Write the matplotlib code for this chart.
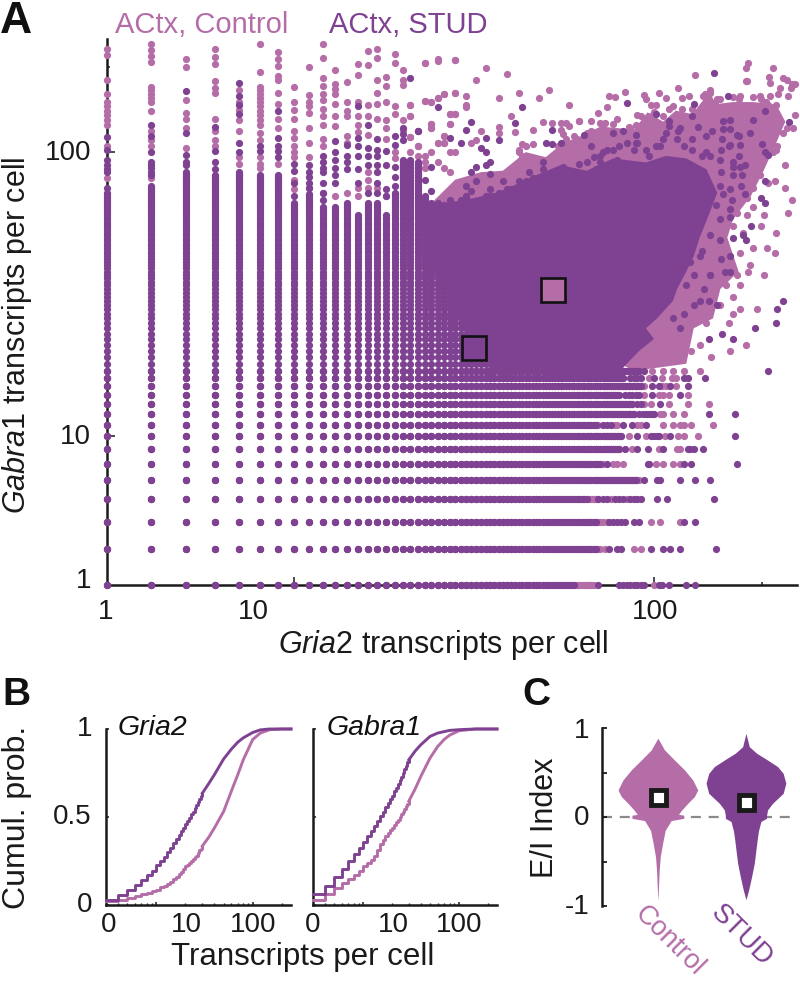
import matplotlib
matplotlib.use("Agg")
import matplotlib.pyplot as plt
from matplotlib.ticker import NullFormatter, FixedLocator

plt.rcParams['font.family'] = ['Liberation Sans', 'DejaVu Sans']
plt.rcParams['mathtext.fontset'] = 'custom'
plt.rcParams['mathtext.it'] = 'Liberation Sans:italic'
plt.rcParams['mathtext.rm'] = 'Liberation Sans'
W, H = 800, 981
PINK = '#B56DA8'
PURP = '#7F4191'
INK = '#1a1a1a'

# ---------- Panel A data (transcript counts sit on an integer lattice) ----------
col_x = list(range(3, 41))
col_top = [72, 75, 85, 83, 85, 83, 83, 66, 71, 64, 64, 66, 60, 66, 66, 60, 72, 94, 94, 92, 70, 66, 65, 65, 68, 65, 65, 70,
           66, 66, 68, 68, 70, 70, 72, 72, 74, 74]
row_y = list(range(3, 18))
stud_row_end = [60, 69, 69, 65, 89, 71, 80, 81, 69, 88, 87, 80, 92, 82, 91]
ctrl_row_end = [68, 71, 72, 70, 91, 72, 80, 81, 70, 88, 87, 80, 92, 82, 91]

stud_row_extra = {
    3: [70, 80, 82, 84, 86, 88, 90, 92, 94, 103, 105, 110, 123, 130],
    4: [75, 79, 81, 98, 106, 111, 118, 149],
    5: [75, 77, 79, 81, 83, 88, 91, 121, 130],
    6: [70, 72, 74, 78, 80, 82, 86, 88, 90, 92, 102, 109, 147],
    7: [94, 102, 104, 118, 130, 143],
    8: [74, 96, 97, 121, 127, 170],
    9: [83, 90, 96, 106, 124, 126, 129, 137],
    10: [90, 98, 100, 102, 103, 111, 168],
    11: [72, 74, 76, 82, 87, 95],
    12: [91, 93, 95, 97, 99, 100, 142, 168],
    13: [90, 92, 104],
    14: [83, 85, 87, 89, 91, 99, 118],
    15: [99, 103, 111, 124],
    16: [86, 88, 90, 92, 100, 121, 124, 139],
    17: [94, 207],
}
ctrl_row_extra = {
    3: [62, 65, 67, 100],
    4: [73, 88, 92],
    5: [74, 98, 104, 118],
    6: [68, 76, 84],
    8: [77, 79, 82, 101, 106, 113, 118],
    9: [87, 103, 116, 118],
    10: [85, 95, 107, 117, 121, 133],
    11: [78, 79, 90, 92, 106, 113, 118, 121, 127, 146],
    12: [104, 106, 113, 121],
    13: [94, 98, 110, 124, 142],
    14: [94, 103, 106, 110, 124],
    15: [94, 105, 108, 115],
    16: [97, 105, 112, 115],
    17: [99, 106, 113, 121, 134],
}
ctrl_col_extra = {
    3: [230, 220, 180, 160, 150, 145, 140, 135, 130, 125, 105, 81],
    4: [240, 228, 218, 208, 170, 165, 160, 155, 150, 139, 119, 110, 105, 81],
    5: [212, 200, 152, 137, 131, 122, 103],
    6: [230, 216, 204, 178, 168, 161, 131, 119, 110, 105],
    7: [165, 150, 141, 130, 119, 96, 91],
    8: [240, 192, 170, 165, 160, 155, 150, 145, 140, 135, 130, 125, 117, 110, 96, 91, 88],
    9: [225, 212, 201, 185, 180, 162, 148, 131, 122, 91],
    10: [170, 150, 141, 131, 119, 112, 105, 100, 96, 80, 74],
    11: [200, 159, 150, 145, 137, 122, 108, 96, 75],
    12: [240, 215, 182, 171, 160, 153, 142, 134, 125, 111, 105, 72],
    13: [194, 173, 167, 160, 148, 134, 124, 70],
    14: [177, 150, 140, 134, 114, 108, 72],
    15: [204, 187, 150, 134, 125, 118, 75, 70],
    16: [227, 202, 147, 134, 115, 85, 80, 75],
    17: [230, 215, 180, 162, 148, 131, 75],
    18: [184, 171, 150, 130, 122, 111, 70],
    19: [222, 205, 145, 136, 100, 95],
    20: [194, 180, 172, 130, 120],
    21: [147, 134, 113, 100],
    22: [119, 105, 97],
    23: [205, 151, 97, 92, 88],
    24: [150, 126, 122, 100],
    25: [212, 155, 108, 92],
    26: [160, 114, 108, 88],
    27: [136, 126, 100, 85],
    28: [211, 161, 136, 100],
}
stud_col_extra = {
    3: [113, 102, 94, 90, 87, 85, 75],
    4: [125, 114, 100, 92, 90, 88, 85, 83, 76],
    5: [164, 117, 98, 92, 90],
    6: [123, 101, 92, 87],
    7: [175, 157, 146, 136, 108, 100],
    8: [105, 101],
    9: [139, 112, 105, 101, 96],
    10: [91, 86, 78, 70],
    11: [90, 85, 82, 78, 75],
    12: [97, 92, 88, 85, 78, 72, 68],
    13: [109, 100, 94, 88, 83, 78],
    14: [106, 97, 92, 87],
    15: [145, 112, 105, 97, 87, 78],
    16: [125, 103, 97, 90, 72],
    17: [111, 102, 97, 90, 85, 78, 72],
    18: [101, 90, 74, 70],
    19: [114, 106, 89, 82, 76],
    20: [122, 116, 110],
    21: [182],
    22: [119],
    23: [80],
    24: [89, 73],
}

stud_pts_x = [25, 43, 84, 129, 161, 204, 238, 31, 41, 52, 22, 30, 27, 34, 29, 64, 37, 50, 52, 55, 33, 34, 101, 110, 128, 133, 145,
              118, 82, 77, 67, 156, 163, 156, 163, 188, 140, 185, 170, 155, 163, 174, 200, 204, 208, 204, 199, 204, 179, 175, 165, 156,
              163, 163, 186, 177, 180, 163, 154, 158, 163, 143, 138, 142, 150, 229, 220, 219, 191, 166, 155, 142, 147,
              31, 32, 34, 35, 35, 32, 30, 31, 35, 34, 38, 42, 45, 49, 49, 56, 60, 62, 65, 69, 71, 80, 86, 88, 90, 77, 79, 72, 68,
              97, 101, 108, 110, 117, 128, 140, 154, 162, 172, 172, 166, 179, 176, 154, 166,
              71, 74, 80, 84, 89, 89, 95, 104, 106, 116, 121, 128, 136, 143, 153, 166, 173, 153, 163, 149, 153, 143, 153, 166,
              136, 134, 126, 129, 143, 123, 134, 121, 129, 113, 118, 25, 27, 29, 30, 33, 36, 38, 41, 44, 46, 51]
stud_pts_y = [144, 144, 149, 148, 158, 139, 128, 128, 127, 120, 119, 120, 112, 112, 108, 115, 110, 108, 107, 108, 103, 100, 136, 129, 134, 123, 119,
              122, 119, 117, 105, 129, 130, 121, 121, 130, 114, 117, 115, 111, 106, 106, 107, 100, 98, 79, 69, 66, 71, 76, 68, 71,
              63, 59, 55, 51, 49, 43, 42, 38, 38, 37, 33, 30, 29, 30, 28, 25, 24, 22, 23, 22, 190,
              85, 89, 90, 92, 84, 79, 76, 73, 74, 70, 79, 79, 85, 92, 87, 89, 85, 91, 92, 87, 92, 89, 89, 102, 108, 102, 94, 100, 96,
              97, 105, 117, 124, 119, 111, 100, 102, 105, 114, 97, 92, 90, 83, 85, 83,
              97, 102, 105, 108, 115, 108, 102, 105, 111, 111, 105, 102, 97, 97, 94, 89, 89, 76, 74, 65, 58, 51, 49, 50,
              45, 43, 41, 37, 37, 34, 30, 27, 29, 26, 24, 66, 66, 68, 65, 68, 68, 69, 73, 79, 81, 83]
ctrl_pts_x = [23, 25, 28, 34, 32, 39, 130, 183, 180, 214, 209, 210, 180, 182, 229, 234, 242, 224, 240, 247, 117, 103, 83, 94, 95, 75, 78,
              108, 120, 125, 51, 48, 42, 37, 30, 30, 30, 28, 26, 25, 24, 23, 58, 74, 70, 79, 67, 62, 90, 92, 40, 27, 28, 21, 21,
              46, 49, 52, 55, 57, 62, 55, 41, 37, 37, 33, 27, 24, 24, 32, 31, 26, 25, 26, 21, 22,
              247, 234, 244, 220, 215, 232, 217, 208, 242, 232, 236, 218, 203, 199, 206, 217, 203, 183, 174, 193, 166, 173, 162,
              180, 163, 144, 134, 127, 44, 42, 58, 73, 85, 76, 100, 110, 98, 128, 137, 143, 150, 173, 198, 205,
              143, 139, 142, 148, 153, 166, 172, 189, 197, 210, 222, 236, 208, 219, 43, 46, 42, 43, 45, 49, 54, 57, 56, 60, 61,
              65, 67, 71, 72, 77, 86, 89, 94, 98, 101, 106, 113, 120, 229, 214, 219, 201, 197, 189, 181, 189, 170, 181, 166, 177,
              189, 173, 185, 170, 159, 166, 153, 140]
ctrl_pts_y = [205, 210, 211, 197, 179, 188, 187, 206, 198, 197, 184, 175, 178, 178, 182, 179, 174, 168, 168, 174, 168, 162, 163, 159, 154, 158, 156,
              155, 155, 158, 165, 155, 161, 155, 158, 146, 144, 161, 160, 155, 150, 151, 147, 144, 137, 131, 129, 129, 135, 134, 134, 136, 136, 147, 134,
              120, 128, 127, 127, 127, 129, 120, 118, 123, 117, 119, 126, 126, 122, 110, 108, 108, 108, 114, 113, 105,
              135, 122, 122, 105, 100, 90, 79, 78, 68, 75, 61, 52, 60, 55, 46, 44, 37, 38, 34, 28, 27, 28, 25,
              21, 20, 19, 21, 20, 105, 100, 124, 127, 123, 117, 138, 142, 146, 142, 158, 162, 154, 157, 154, 150,
              165, 160, 154, 150, 154, 156, 154, 156, 158, 158, 160, 158, 146, 146, 107, 107, 102, 97, 94, 94, 105, 111, 116, 114, 111,
              117, 119, 127, 126, 126, 122, 125, 127, 134, 146, 134, 145, 142, 117, 117, 102, 97, 83, 75, 69, 64, 61, 60, 55, 52,
              46, 44, 40, 37, 34, 31, 29, 25]

ctrl_mass_x = [24, 28, 33, 38, 44, 50, 56, 62, 71, 88, 96, 106, 115, 128, 140, 152, 166, 189, 219, 232, 219, 201, 186, 166, 160, 172, 153, 146, 129, 123, 88, 24]
ctrl_mass_y = [66, 80, 85, 86, 100, 96, 108, 113, 123, 120, 138, 128, 140, 136, 158, 148, 150, 150, 147, 128, 108, 85, 70, 58, 50, 38, 33, 26, 24, 18, 17, 40]
stud_mass_x = [24, 30, 37, 46, 55, 65, 77, 95, 108, 123, 140, 150, 142, 134, 129, 123, 116, 113, 102, 95, 100, 91, 84, 80, 36, 30, 24]
stud_mass_y = [65, 68, 72, 82, 90, 86, 95, 92, 97, 95, 87, 72, 60, 50, 43, 38, 33, 30, 26, 24, 22, 20, 18, 16.8, 16.8, 24, 40]

ctrl_mean = (52.3, 32.6)
stud_mean = (31.6, 20.5)

# ---------- Panel B data ----------
cdf_int = list(range(3, 31))
cdf_tail = [35, 40, 50, 60, 70, 80, 100, 120, 150, 200, 250]
gria2_stud_int = [.03, .055, .085, .115, .14, .17, .195, .225, .25, .275, .30, .325, .35, .375, .40, .42, .44, .46,
                  .475, .495, .515, .53, .55, .57, .585, .60, .62, .635]
gria2_stud_tail = [.69, .74, .83, .885, .925, .95, .98, .995, 1, 1, 1]
gria2_ctrl_int = [.02, .03, .04, .05, .06, .07, .08, .087, .10, .11, .12, .13, .145, .16, .175, .19, .205, .22,
                  .23, .24, .25, .26, .27, .28, .295, .31, .32, .335]
gria2_ctrl_tail = [.385, .437, .532, .646, .74, .826, .94, .977, .996, 1, 1]
gabra1_stud_int = [.06, .11, .16, .205, .25, .29, .325, .36, .39, .42, .45, .48, .505, .53, .555, .58, .60, .62,
                   .645, .665, .69, .71, .73, .75, .77, .79, .81, .825]
gabra1_stud_tail = [.875, .91, .958, .977, .985, .992, .996, .998, 1, 1, 1]
gabra1_ctrl_int = [.03, .06, .095, .125, .145, .17, .195, .22, .24, .255, .28, .31, .345, .37, .39, .41, .425, .44,
                   .455, .47, .485, .50, .515, .53, .545, .56, .575, .59]
gabra1_ctrl_tail = [.66, .73, .835, .90, .94, .965, .99, .995, 1, 1, 1]

# ---------- Panel C data ----------
ei_ctrl = [.885, .754, .64, .53, .416, .304, .23, .154, .08, .03, .02, -.015, -.04, -.15, -.30, -.45, -.60, -.78, -.94]
ctrl_width = [0, 20, 50, 80, 105, 120, 110, 90, 72, 62, 78, 78, 40, 22, 14, 7, 4, 2, 0]
ei_stud = [.94, .79, .717, .64, .567, .49, .38, .266, .154, .08, .02, -.015, -.05, -.15, -.22, -.37, -.52, -.67, -.82, -.93]
stud_width = [0, 10, 32, 65, 95, 112, 120, 112, 80, 65, 62, 62, 45, 38, 35, 30, 25, 17, 8, 0]
ei_means = [.23, .173]
groups = ['Control', 'STUD']


def axpx(l, t, r, b):
    return fig.add_axes([l / W, 1 - b / H, (r - l) / W, (b - t) / H])


def txt(x, y, s, **k):
    k.setdefault('ha', 'center')
    k.setdefault('va', 'center')
    k.setdefault('color', INK)
    fig.text(x / W, 1 - y / H, s, **k)


def style(ax, lw=1.8):
    for s in ('top', 'right'):
        ax.spines[s].set_visible(False)
    for s in ('left', 'bottom'):
        ax.spines[s].set_linewidth(lw)
        ax.spines[s].set_color(INK)
    ax.patch.set_alpha(0)


minor_t = [4, 5, 6, 7, 8, 9, 20, 30, 40, 50, 60, 70, 80, 90, 200]

fig = plt.figure(figsize=(W / 100, H / 100), dpi=100)

# ---------- A ----------
ax = axpx(106.5, 39, 797, 585)
style(ax)
ax.set_xscale('log')
ax.set_yscale('log')
ax.set_xlim(3, 250)
ax.set_ylim(3, 250)
for a in (ax.xaxis, ax.yaxis):
    a.set_major_locator(FixedLocator([10, 100]))
    a.set_minor_locator(FixedLocator(minor_t))
    a.set_major_formatter(NullFormatter())
    a.set_minor_formatter(NullFormatter())
ax.tick_params(which='major', direction='in', length=5.5, width=1.1, color=INK)
ax.tick_params(which='minor', direction='in', length=2.5, width=1.1, color=INK)

sx, sy, cx, cy = [], [], [], []
for x, t in zip(col_x, col_top):
    for y in range(3, t + 1):
        sx.append(x); sy.append(y)
for y, e, e2 in zip(row_y, stud_row_end, ctrl_row_end):
    for x in range(3, e + 1):
        sx.append(x); sy.append(y)
    for x in range(3, e2 + 1):
        cx.append(x); cy.append(y)
for y, xs in stud_row_extra.items():
    sx += xs; sy += [y] * len(xs)
for y, xs in ctrl_row_extra.items():
    cx += xs; cy += [y] * len(xs)
for x, ys in stud_col_extra.items():
    sx += [x] * len(ys); sy += ys
for x, ys in ctrl_col_extra.items():
    cx += [x] * len(ys); cy += ys
sx += stud_pts_x; sy += stud_pts_y
cx += ctrl_pts_x; cy += ctrl_pts_y

S = 27
ax.fill(ctrl_mass_x, ctrl_mass_y, color=PINK, lw=0, zorder=3)
ax.scatter(cx, cy, s=S, color=PINK, lw=0, zorder=3, clip_on=False)
ax.fill(stud_mass_x, stud_mass_y, color=PURP, lw=0, zorder=4)
ax.scatter(sx, sy, s=S, color=PURP, lw=0, zorder=4, clip_on=False)
ax.plot(*ctrl_mean, 's', ms=17.5, mfc=PINK, mec='#111111', mew=1.9, zorder=5)
ax.plot(*stud_mean, 's', ms=17.5, mfc=PURP, mec='#111111', mew=1.9, zorder=5)

FS = 20
LS = 22
txt(0, 33, 'A', fontsize=32, fontweight='bold', ha='left', va='baseline', color='#111111')
txt(115, 25, 'ACtx, Control', fontsize=21, color=PINK, ha='left')
txt(329, 25, 'ACtx, STUD', fontsize=21, color=PURP, ha='left')
for lab, y in zip(['100', '10', '1'], [153, 437, 581]):
    txt(91, y, lab, fontsize=FS, ha='right')
for lab, x in zip(['1', '10', '100'], [106, 253, 655]):
    txt(x, 612, lab, fontsize=FS)
txt(443, 645, r'$\mathit{Gria}$2 transcripts per cell', fontsize=LS)
txt(17, 335, r'$\mathit{Gabra1}$ transcripts per cell', fontsize=LS, rotation=90)

# ---------- B ----------
for (l, r, name, name_x, si, st, ci, ct) in [
    (106, 291, 'Gria2', 152, gria2_stud_int, gria2_stud_tail, gria2_ctrl_int, gria2_ctrl_tail),
    (313, 497, 'Gabra1', 374, gabra1_stud_int, gabra1_stud_tail, gabra1_ctrl_int, gabra1_ctrl_tail),
]:
    b = axpx(l, 729, r, 905)
    style(b)
    b.set_xscale('log')
    b.set_xlim(3, 250)
    b.set_ylim(0, 1)
    b.xaxis.set_major_locator(FixedLocator([10, 100]))
    b.xaxis.set_minor_locator(FixedLocator(minor_t))
    b.xaxis.set_major_formatter(NullFormatter())
    b.xaxis.set_minor_formatter(NullFormatter())
    b.set_yticks([0, .5, 1])
    b.set_yticklabels([])
    b.tick_params(which='major', direction='in', length=2.2, width=1.1, color=INK)
    b.tick_params(which='minor', direction='in', length=1.5, width=1.0, color=INK)
    for vi, vt, c, z in [(ci, ct, PINK, 3), (si, st, PURP, 4)]:
        b.step(cdf_int, vi, where='post', color=c, lw=2.1, zorder=z, clip_on=False)
        b.plot(cdf_int[-1:] + cdf_tail, vi[-1:] + vt, color=c, lw=2.1, zorder=z, clip_on=False)
    txt(name_x, 728, name, fontsize=20.5, style='italic', color='#111111')
for lab, x in zip(['0', '10', '100', '0', '10', '100'], [109, 186, 253, 313, 393, 459]):
    txt(x, 925, lab, fontsize=FS)
for lab, y in zip(['1', '0.5', '0'], [729, 817, 905]):
    txt(92, y, lab, fontsize=FS, ha='right')
txt(303, 957, 'Transcripts per cell', fontsize=22.5)
txt(17, 817, 'Cumul. prob.', fontsize=23, rotation=90)
txt(2, 705, 'B', fontsize=28, fontweight='bold', ha='left', va='baseline', color='#111111')

# ---------- C ----------
c = axpx(601.5, 728, 790, 906)
style(c)
c.spines['bottom'].set_visible(False)
c.set_xlim(0.36, 2.5)
c.set_ylim(-1, 1)
c.set_xticks([])
c.set_yticks([-1, -.5, 0, .5, 1])
c.set_yticklabels([])
c.tick_params(axis='y', direction='in', length=3.5, width=1.3, color=INK)
c.axhline(0, color='#8a8a8a', lw=1.6, dashes=(4.5, 3.5), zorder=1)
for i, (e, w, col, m) in enumerate(zip([ei_ctrl, ei_stud], [ctrl_width, stud_width], [PINK, PURP], ei_means)):
    hw = [v / 265 for v in w]
    c.fill_betweenx(e, [i + 1 - v for v in hw], [i + 1 + v for v in hw], color=col, lw=0, zorder=2)
    c.plot([i + 1], [m], 's', ms=10.8, mfc='white', mec='#1a1a1a', mew=3.5, zorder=3)
for lab, y in zip(['1', '0', '-1'], [731, 818, 907]):
    txt(589, y, lab, fontsize=FS, ha='right')
txt(545, 818, 'E/I Index', fontsize=22, rotation=90)
txt(669, 941, groups[0], fontsize=19.5, rotation=-45, color=PINK)
txt(741, 936, groups[1], fontsize=20, rotation=-45, color=PURP)
txt(522, 705, 'C', fontsize=28, fontweight='bold', ha='left', va='baseline', color='#111111')

fig.savefig('out.png', dpi=100)
